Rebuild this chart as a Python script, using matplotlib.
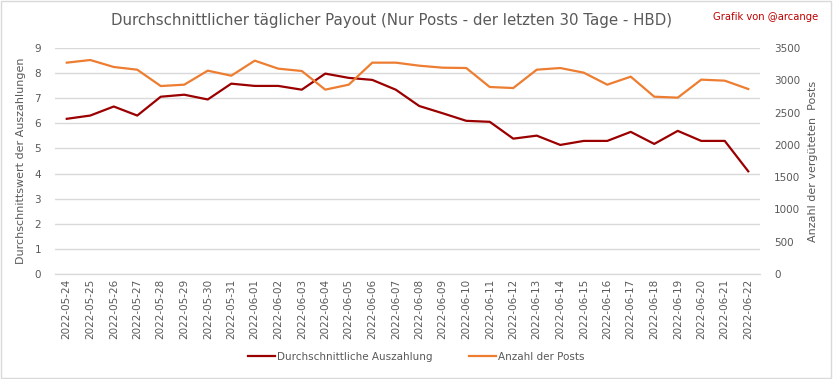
import numpy as np
import pandas as pd
import matplotlib.pyplot as plt

dates = pd.date_range("2022-05-24", "2022-06-22").strftime("%Y-%m-%d").tolist()

avg_payout = [6.18, 6.31, 6.67, 6.31, 7.06, 7.14, 6.95, 7.58, 7.49, 7.49,
              7.34, 7.98, 7.81, 7.73, 7.34, 6.69, 6.40, 6.10, 6.06, 5.39,
              5.51, 5.14, 5.30, 5.30, 5.66, 5.18, 5.70, 5.30, 5.30, 4.09]

post_count = [3273, 3314, 3206, 3164, 2911, 2932, 3149, 3071, 3304, 3180,
              3144, 2855, 2932, 3273, 3273, 3226, 3195, 3190, 2896, 2880,
              3164, 3190, 3118, 2932, 3056, 2746, 2731, 3010, 2994, 2865]

grey = "#595959"
red = "#9b0000"
orange = "#ed7d31"

fig = plt.figure(figsize=(8.33, 3.79), dpi=100)
ax = fig.add_axes([55 / 833, 1 - 274 / 379, 705 / 833, 226 / 379])
ax2 = ax.twinx()

x = np.arange(len(dates))
l1, = ax.plot(x, avg_payout, color=red, lw=1.6, label="Durchschnittliche Auszahlung")
l2, = ax2.plot(x, post_count, color=orange, lw=1.6, label="Anzahl der Posts")

ax.set_ylim(0, 9)
ax.set_yticks(range(10))
ax2.set_ylim(0, 3500)
ax2.set_yticks(range(0, 3501, 500))
ax.set_xlim(-0.5, len(dates) - 0.5)
ax.set_xticks(x)
ax.set_xticklabels(dates, rotation=90, fontsize=7.5, color=grey)

ax.grid(axis="y", color="#d9d9d9", lw=1)
ax.set_axisbelow(True)
for a in (ax, ax2):
    for s in ("top", "left", "right"):
        a.spines[s].set_visible(False)
    a.spines["bottom"].set_color("#d9d9d9")
    a.tick_params(length=0, labelsize=7.5, labelcolor=grey)
ax.tick_params(axis="y", pad=10)
ax2.tick_params(axis="y", pad=10)

ax.set_ylabel("Durchschnittswert der Auszahlungen", fontsize=8, color=grey, labelpad=6)
ax2.set_ylabel("Anzahl der vergüteten  Posts", fontsize=8, color=grey, labelpad=6)

fig.text(392 / 833, 0.945, "Durchschnittlicher täglicher Payout (Nur Posts - der letzten 30 Tage - HBD)",
         ha="center", va="center", fontsize=10.8, color=grey)
fig.text(0.982, 0.955, "Grafik von @arcange", ha="right", va="center", fontsize=7.2, color="#c00000")

fig.legend(handles=[l1, l2], loc="center", bbox_to_anchor=(0.5, 0.058), ncol=2,
           frameon=False, fontsize=7.5, labelcolor=grey, handlelength=2.6, columnspacing=3.5,
           handletextpad=0.2)

fig.patches.append(plt.Rectangle((0.001, 0.002), 0.997, 0.995, transform=fig.transFigure,
                                 fill=False, edgecolor="#d9d9d9", lw=1))

fig.savefig("out.png", dpi=100)
